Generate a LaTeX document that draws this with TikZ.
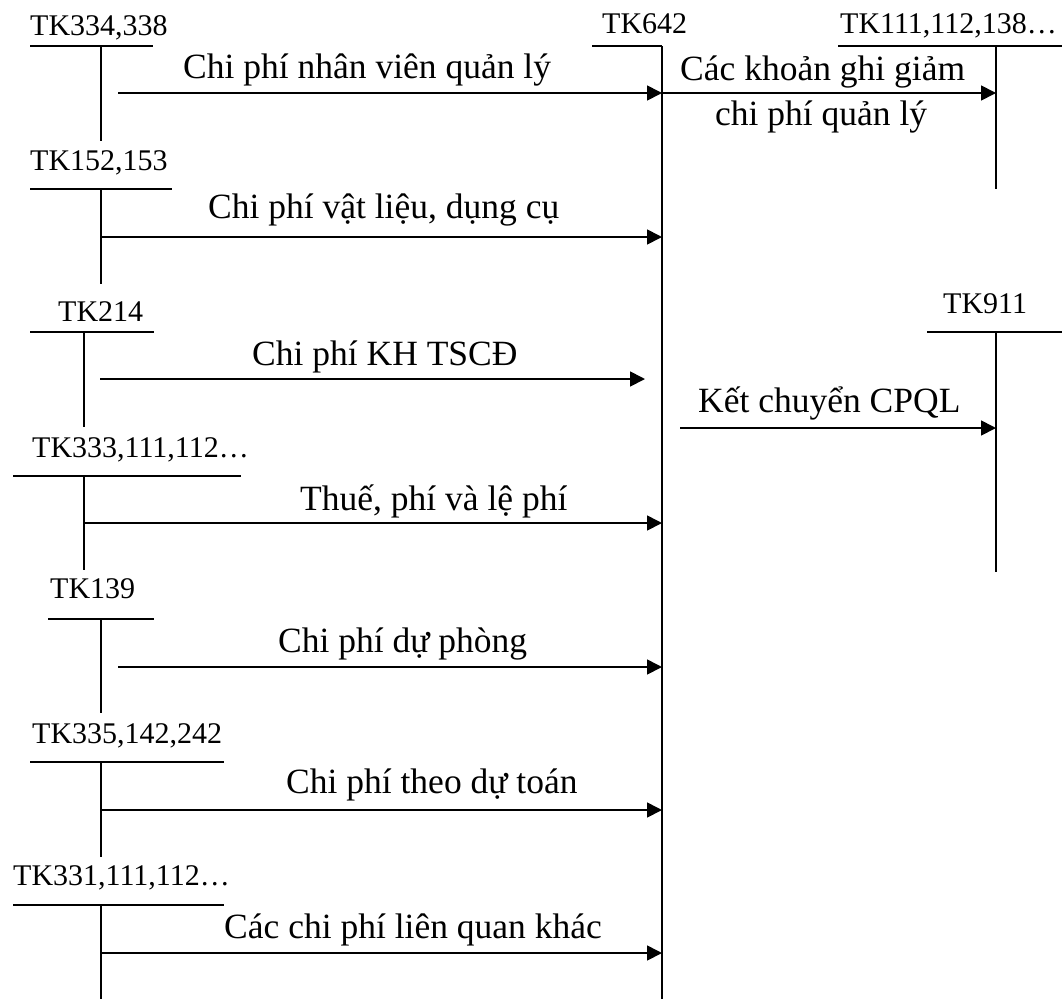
\documentclass[tikz,border=0pt]{standalone}
\usepackage{fontspec}
\setmainfont{Liberation Serif}
\usetikzlibrary{arrows.meta}
\begin{document}
\begin{tikzpicture}[x=1pt,y=-1pt,
  acct/.style={anchor=base west,inner sep=0pt,font=\fontsize{30}{36}\selectfont},
  txt/.style={anchor=base west,inner sep=0pt,font=\fontsize{35.5}{42}\selectfont},
  axis/.style={line width=1.7pt},
  flow/.style={line width=1.7pt,-{Triangle[length=15pt,width=15pt]}}]
\useasboundingbox (0,0) rectangle (1062,999);

% account labels
\node[acct] (a334) at (30,35) {TK334,338};
\node[acct] (a152) at (30,170) {TK152,153};
\node[acct] (a214) at (58,321) {TK214};
\node[acct] (a333) at (32,457) {TK333,111,112…};
\node[acct] (a139) at (50,598) {TK139};
\node[acct] (a335) at (32,743) {TK335,142,242};
\node[acct] (a331) at (13,885) {TK331,111,112…};
\node[acct] (a642) at (602,33) {TK642};
\node[acct] (a111) at (840,33) {TK111,112,138…};
\node[acct] (a911) at (943,313) {TK911};

% flow labels
\node[txt] (l1) at (183,78) {Chi phí nhân viên quản lý};
\node[txt] (l2) at (208,218) {Chi phí vật liệu, dụng cụ};
\node[txt] (l3) at (252,365) {Chi phí KH TSCĐ};
\node[txt] (l4) at (300,510) {Thuế, phí và lệ phí};
\node[txt] (l5) at (278,652) {Chi phí dự phòng};
\node[txt] (l6) at (286,793) {Chi phí theo dự toán};
\node[txt] (l7) at (224,938) {Các chi phí liên quan khác};
\node[txt] (l8) at (680,80) {Các khoản ghi giảm};
\node[txt] (l9) at (715,125) {chi phí quản lý};
\node[txt] (l10) at (698,412) {Kết chuyển CPQL};

% T-account axes
\draw[axis] (30,46) -- (153,46) (101,46) -- (101,141);
\draw[axis] (30,189) -- (172,189) (101,189) -- (101,284);
\draw[axis] (30,332) -- (154,332) (84,332) -- (84,427);
\draw[axis] (13,476) -- (241,476) (84,476) -- (84,570);
\draw[axis] (48,619) -- (154,619) (101,619) -- (101,713);
\draw[axis] (30,762) -- (224,762) (101,762) -- (101,857);
\draw[axis] (13,905) -- (224,905) (101,905) -- (101,999);
\draw[axis] (592,46) -- (662,46) (662,46) -- (662,999);
\draw[axis] (838,46) -- (1062,46) (996,46) -- (996,189);
\draw[axis] (927,332) -- (1062,332) (996,332) -- (996,572);

% flows into TK642
\coordinate (s1) at (118,93);   \coordinate (t1) at (662,93);
\coordinate (s2) at (101,237);  \coordinate (t2) at (662,237);
\coordinate (s3) at (100,379);  \coordinate (t3) at (645,379);
\coordinate (s4) at (84,523);   \coordinate (t4) at (662,523);
\coordinate (s5) at (118,667);  \coordinate (t5) at (662,667);
\coordinate (s6) at (101,810);  \coordinate (t6) at (662,810);
\coordinate (s7) at (101,953);  \coordinate (t7) at (662,953);
\draw[flow] (s1) -- (t1);
\draw[flow] (s2) -- (t2);
\draw[flow] (s3) -- (t3);
\draw[flow] (s4) -- (t4);
\draw[flow] (s5) -- (t5);
\draw[flow] (s6) -- (t6);
\draw[flow] (s7) -- (t7);

% flows out of TK642
\coordinate (s8) at (662,93);  \coordinate (t8) at (996,93);
\coordinate (s9) at (680,428); \coordinate (t9) at (996,428);
\draw[flow] (s8) -- (t8);
\draw[flow] (s9) -- (t9);
\end{tikzpicture}
\end{document}
